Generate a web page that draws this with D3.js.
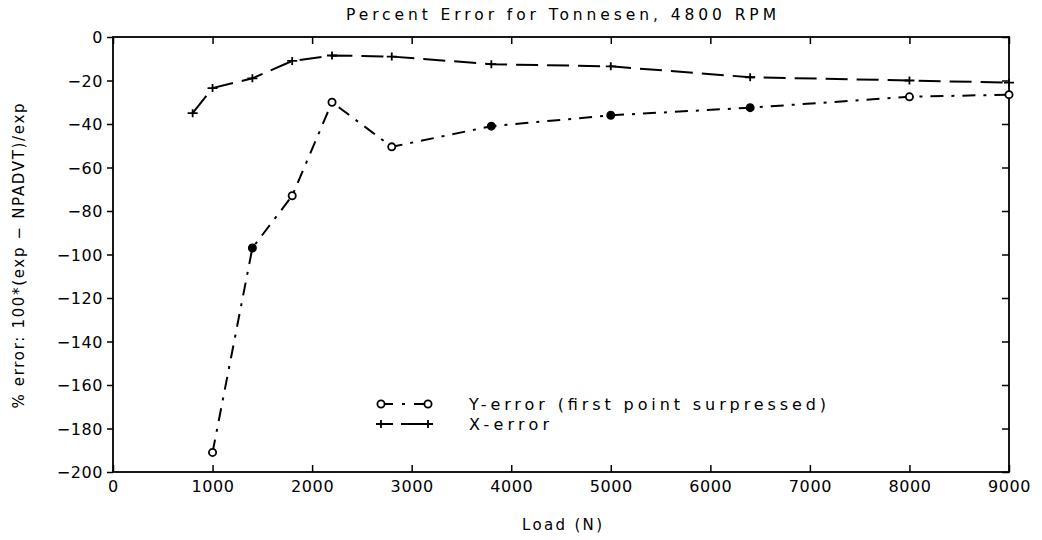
<!DOCTYPE html>
<html>
<head>
<meta charset="utf-8">
<script src="https://cdn.jsdelivr.net/npm/d3@7"></script>
<style>
  html, body { margin: 0; padding: 0; background: #fff; }
  svg { display: block; }
  text { font-family: "DejaVu Sans", sans-serif; fill: #000; }
</style>
</head>
<body>
<svg id="chart" width="1042" height="540"></svg>
<script>
// ---- data ----
const xLoads = [800, 1000, 1400, 1800, 2200, 2800, 3800, 5000, 6400, 8000, 9000];
const xError = [-35, -23.5, -19, -11, -8.5, -9, -12.5, -13.5, -18.5, -20, -21];
const yLoads = [1000, 1400, 1800, 2200, 2800, 3800, 5000, 6400, 8000, 9000];
const yError = [-191, -97, -73, -30, -50.5, -41, -36, -32.5, -27.5, -26.5];
const yFilled = [false, true, false, false, false, true, true, true, false, false];
const xTicks = [0, 1000, 2000, 3000, 4000, 5000, 6000, 7000, 8000, 9000];
const yTicks = [0, -20, -40, -60, -80, -100, -120, -140, -160, -180, -200];
const titleText = "Percent Error for Tonnesen, 4800 RPM";
const xLabel = "Load (N)";
const yLabel = "% error: 100*(exp \u2212 NPADVT)/exp";
const legendLabels = ["Y-error (first point surpressed)", "X-error"];

// ---- layout ----
const L = 113, R = 1009, T = 37, B = 472;
const svg = d3.select("#chart");
const x = d3.scaleLinear().domain([0, 9000]).range([L, R]);
const y = d3.scaleLinear().domain([-200, 0]).range([B, T]);
const fmt = d => (d < 0 ? "\u2212" + Math.abs(d) : String(d));

// frame
svg.append("rect").attr("x", L).attr("y", T).attr("width", R - L).attr("height", B - T)
  .attr("fill", "none").attr("stroke", "#000").attr("stroke-width", 1.8);

// left axis (outward ticks, labels)
const gl = svg.append("g").attr("transform", `translate(${L},0)`)
  .call(d3.axisLeft(y).tickValues(yTicks).tickFormat(fmt).tickSizeInner(6).tickSizeOuter(0).tickPadding(4));
// right axis (inward ticks)
const gr = svg.append("g").attr("transform", `translate(${R},0)`)
  .call(d3.axisLeft(y).tickValues(yTicks).tickFormat("").tickSizeInner(7).tickSizeOuter(0));
// top axis (inward ticks)
const gt = svg.append("g").attr("transform", `translate(0,${T})`)
  .call(d3.axisBottom(x).tickValues(xTicks).tickFormat("").tickSizeInner(7).tickSizeOuter(0));
// bottom axis (inward ticks, labels)
const gb = svg.append("g").attr("transform", `translate(0,${B})`)
  .call(d3.axisBottom(x).tickValues(xTicks).tickFormat(fmt).tickSizeInner(-7).tickSizeOuter(0).tickPadding(8));

[gl, gr, gt, gb].forEach(g => {
  g.select(".domain").remove();
  g.selectAll(".tick line").attr("stroke", "#000").attr("stroke-width", 1.5);
  g.selectAll(".tick text").attr("font-size", 16).attr("font-family", "DejaVu Sans, sans-serif")
    .attr("letter-spacing", 0.6).attr("fill", "#000");
});
gl.selectAll(".tick text").attr("dy", "0.36em");
gb.selectAll(".tick text").attr("dy", "0.75em");

// title and axis labels
svg.append("text").attr("x", 561).attr("y", 20).attr("text-anchor", "middle")
  .attr("font-size", 15.5).attr("textLength", 430).attr("lengthAdjust", "spacing").text(titleText);
svg.append("text").attr("x", 562).attr("y", 530).attr("text-anchor", "middle")
  .attr("font-size", 15).attr("textLength", 80).attr("lengthAdjust", "spacing").text(xLabel);
svg.append("text").attr("transform", "translate(24,256) rotate(-90)").attr("text-anchor", "middle")
  .attr("font-size", 15).attr("textLength", 305).attr("lengthAdjust", "spacing").text(yLabel);

// clip to plot
svg.append("clipPath").attr("id", "clip").append("rect")
  .attr("x", L - 6).attr("y", T - 6).attr("width", R - L + 12).attr("height", B - T + 12);
const plot = svg.append("g").attr("clip-path", "url(#clip)");

const line = d3.line().x(d => x(d[0])).y(d => y(d[1]));
const xData = xLoads.map((d, i) => [d, xError[i]]);
const yData = yLoads.map((d, i) => [d, yError[i]]);

const dashX = "22,9";
const dashY = "13,8,3,8";

plot.append("path").datum(xData).attr("d", line).attr("fill", "none")
  .attr("stroke", "#000").attr("stroke-width", 2).attr("stroke-dasharray", dashX);
plot.append("path").datum(yData).attr("d", line).attr("fill", "none")
  .attr("stroke", "#000").attr("stroke-width", 2).attr("stroke-dasharray", dashY);

function plus(g, cx, cy) {
  g.append("path").attr("d", `M${cx - 5},${cy}H${cx + 5}M${cx},${cy - 4}V${cy + 4}`)
    .attr("stroke", "#000").attr("stroke-width", 1.8).attr("fill", "none");
}
function circ(g, cx, cy, filled) {
  g.append("circle").attr("cx", cx).attr("cy", cy).attr("r", 3.6)
    .attr("fill", filled ? "#000" : "#fff").attr("stroke", "#000").attr("stroke-width", 1.8);
}
xData.forEach(d => plus(plot, x(d[0]), y(d[1])));
yData.forEach((d, i) => circ(plot, x(d[0]), y(d[1]), yFilled[i]));

// legend
const lx0 = 381, lx1 = 428, ly = [404, 424];
const lg = svg.append("g");
lg.append("path").attr("d", `M${lx0},${ly[0]}H${lx1}`).attr("stroke", "#000")
  .attr("stroke-width", 2).attr("stroke-dasharray", "12,9,3,9,20").attr("fill", "none");
circ(lg, lx0, ly[0], false); circ(lg, lx1, ly[0], false);
lg.append("path").attr("d", `M${lx0},${ly[1]}H${lx1}`).attr("stroke", "#000")
  .attr("stroke-width", 2).attr("stroke-dasharray", "12,8,30").attr("fill", "none");
plus(lg, lx0, ly[1]); plus(lg, lx1, ly[1]);
lg.append("text").attr("x", 469).attr("y", ly[0]).attr("dy", "0.35em").attr("font-size", 16)
  .attr("textLength", 357).attr("lengthAdjust", "spacing").text(legendLabels[0]);
lg.append("text").attr("x", 469).attr("y", ly[1]).attr("dy", "0.35em").attr("font-size", 16)
  .attr("textLength", 80).attr("lengthAdjust", "spacing").text(legendLabels[1]);
</script>
</body>
</html>
